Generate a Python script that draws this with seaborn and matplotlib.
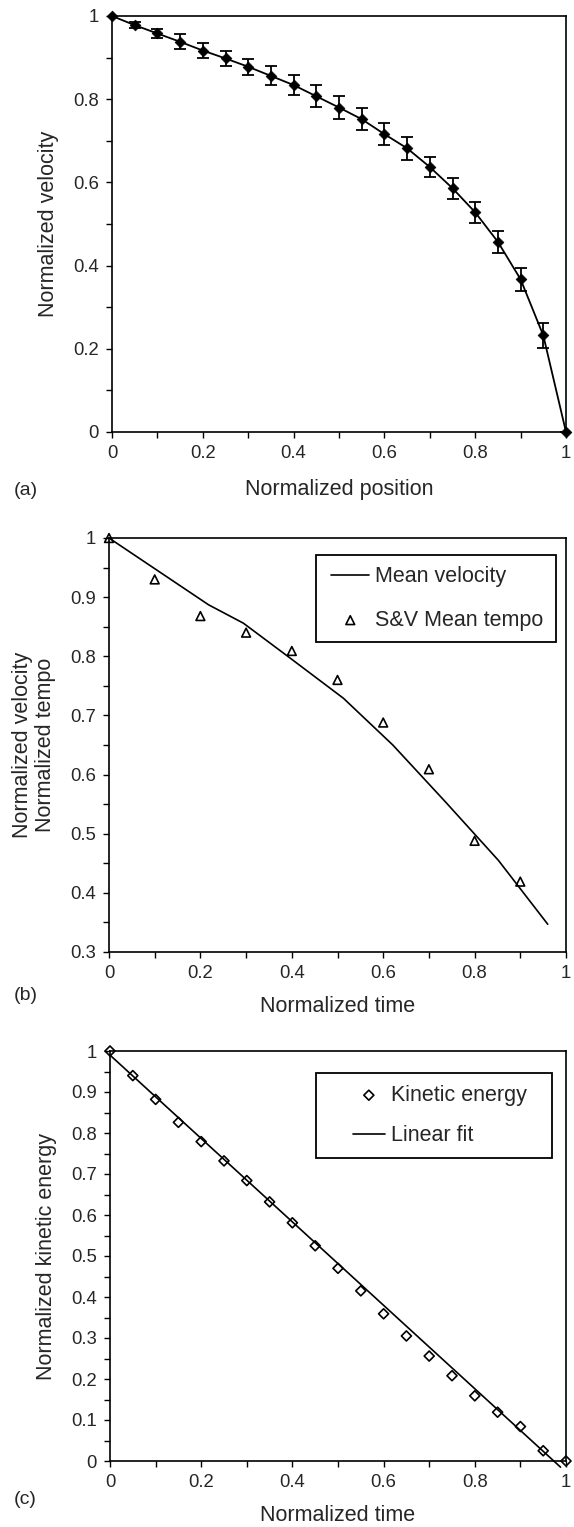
import numpy as np
import pandas as pd
import matplotlib
matplotlib.use("Agg")
import matplotlib.pyplot as plt
from matplotlib.ticker import MultipleLocator, FuncFormatter
from matplotlib.legend_handler import HandlerLine2D, HandlerPathCollection
import seaborn as sns

# ---- data -------------------------------------------------------------
# (a) velocity profile along the normalized position
pos_x = [0.0, 0.05, 0.10, 0.15, 0.20, 0.25, 0.30, 0.35, 0.40, 0.45, 0.50,
         0.55, 0.60, 0.65, 0.70, 0.75, 0.80, 0.85, 0.90, 0.95, 1.0]
pos_vel = [1.0, 0.978, 0.958, 0.938, 0.917, 0.898, 0.878, 0.856, 0.834, 0.807, 0.780,
           0.752, 0.716, 0.682, 0.637, 0.586, 0.528, 0.457, 0.367, 0.232, 0.0]
pos_err = [0.0, 0.008, 0.010, 0.018, 0.019, 0.018, 0.019, 0.023, 0.024, 0.026, 0.027,
           0.026, 0.026, 0.028, 0.025, 0.025, 0.025, 0.026, 0.028, 0.031, 0.0]

# (b) mean velocity and S&V mean tempo over normalized time
mv_time = [0.0, 0.218, 0.294, 0.398, 0.513, 0.621, 0.736, 0.852, 0.960]
mv_vel = [1.0, 0.887, 0.856, 0.796, 0.729, 0.650, 0.554, 0.455, 0.347]
tempo_time = [0.0, 0.1, 0.2, 0.3, 0.4, 0.5, 0.6, 0.7, 0.8, 0.9]
tempo_val = [1.0, 0.930, 0.868, 0.840, 0.809, 0.760, 0.688, 0.609, 0.488, 0.419]

# (c) kinetic energy over normalized time and its linear fit
ke_time = [0.0, 0.05, 0.10, 0.15, 0.20, 0.25, 0.30, 0.35, 0.40, 0.45, 0.50,
           0.55, 0.60, 0.65, 0.70, 0.75, 0.80, 0.85, 0.90, 0.95, 1.0]
ke_val = [1.0, 0.940, 0.882, 0.826, 0.779, 0.732, 0.684, 0.632, 0.581, 0.525, 0.470,
          0.415, 0.359, 0.305, 0.256, 0.208, 0.159, 0.119, 0.084, 0.025, 0.0]
fit_time = [0.0, 0.988]
fit_val = [0.990, -0.015]

# ---- style ------------------------------------------------------------
sns.set_style("white")
plt.rcParams["font.family"] = ["Liberation Sans", "DejaVu Sans"]
plt.rcParams["axes.edgecolor"] = "black"
plt.rcParams["axes.linewidth"] = 1.2

W, H = 574, 1527
fig = plt.figure(figsize=(W / 100, H / 100), dpi=100)


def axes_px(left, top, right, bottom):
    return fig.add_axes([left / W, 1 - bottom / H, (right - left) / W, (bottom - top) / H])


fmt = FuncFormatter(lambda v, _: f"{v:g}")
TICK_FS = 13.3
LABEL_FS = 15.5
LEG_FS = 15.5
LEG_PX = LEG_FS * 100 / 72


# Legend handlers that leave an empty gap on the left of the handle box
class ShiftedLine(HandlerLine2D):
    def __init__(self, shift_px, **kw):
        super().__init__(**kw)
        self.shift_px = shift_px

    def create_artists(self, legend, orig_handle, xdescent, ydescent, width,
                       height, fontsize, trans):
        s = self.shift_px
        return super().create_artists(legend, orig_handle, xdescent - s, ydescent,
                                      width - s, height, fontsize, trans)


class ShiftedPoints(HandlerPathCollection):
    def __init__(self, shift_px, **kw):
        super().__init__(**kw)
        self.shift_px = shift_px

    def create_artists(self, legend, orig_handle, xdescent, ydescent, width,
                       height, fontsize, trans):
        s = self.shift_px
        return super().create_artists(legend, orig_handle, xdescent - s, ydescent,
                                      width - s, height, fontsize, trans)


def style_axes(ax, ylim, ymajor, yminor):
    ax.set_xlim(0, 1)
    ax.set_ylim(*ylim)
    ax.xaxis.set_major_locator(MultipleLocator(0.2))
    ax.xaxis.set_minor_locator(MultipleLocator(0.1))
    ax.yaxis.set_major_locator(MultipleLocator(ymajor))
    ax.yaxis.set_minor_locator(MultipleLocator(yminor))
    ax.xaxis.set_major_formatter(fmt)
    ax.yaxis.set_major_formatter(fmt)
    ax.tick_params(which="both", direction="out", length=4.5, width=1.0,
                   color="black", bottom=True, left=True, top=False, right=False)
    ax.tick_params(which="major", labelsize=TICK_FS, pad=5)
    for s in ax.spines.values():
        s.set_visible(True)
        s.set_color("black")
        s.set_linewidth(1.2)


def boxed_legend(ax, ax_box, box, handle_px, shift_px, spacing, pad):
    """Legend with a square black frame spanning the pixel box (l, t, r, b)."""
    al, at, ar, ab = ax_box
    l, t, r, b = box
    aw, ah = ar - al, ab - at
    anchor = ((l - al) / aw, 1 - (b - at) / ah, (r - l) / aw, (b - t) / ah)
    handles, labels = ax.get_legend_handles_labels()
    hmap = {}
    for h in handles:
        if isinstance(h, matplotlib.lines.Line2D):
            hmap[h] = ShiftedLine(shift_px)
        else:
            hmap[h] = ShiftedPoints(shift_px)
    leg = ax.legend(handles, labels, loc="upper left", bbox_to_anchor=anchor,
                    mode="expand", borderaxespad=0, fontsize=LEG_FS, frameon=True,
                    fancybox=False, edgecolor="black", framealpha=1,
                    handlelength=handle_px / LEG_PX, handletextpad=6 / LEG_PX,
                    labelspacing=spacing, borderpad=pad, scatterpoints=1,
                    handler_map=hmap)
    leg.get_frame().set_linewidth(1.3)
    return leg


# ---- (a) ----------------------------------------------------------------
box_a = (112, 16, 566, 432)
ax_a = axes_px(*box_a)
df_a = pd.DataFrame({"x": pos_x, "v": pos_vel, "e": pos_err})
sns.lineplot(data=df_a, x="x", y="v", color="black", linewidth=1.3,
             estimator=None, sort=False, ax=ax_a)
ax_a.errorbar(df_a["x"], df_a["v"], yerr=df_a["e"], fmt="none", ecolor="black",
              elinewidth=1.3, capsize=4.5, capthick=1.3)
sns.scatterplot(data=df_a, x="x", y="v", marker="D", s=30, color="black",
                edgecolor="black", linewidth=0.5, clip_on=False, zorder=5, ax=ax_a)
style_axes(ax_a, (0, 1), 0.2, 0.1)
ax_a.set_xlabel("Normalized position", fontsize=LABEL_FS, labelpad=12)
ax_a.set_ylabel("Normalized velocity", fontsize=LABEL_FS, labelpad=10)
fig.text(14 / W, 1 - 490 / H, "(a)", fontsize=14, ha="left", va="center")

# ---- (b) ----------------------------------------------------------------
box_b = (109, 538, 566, 952)
ax_b = axes_px(*box_b)
df_mv = pd.DataFrame({"t": mv_time, "v": mv_vel})
df_tp = pd.DataFrame({"t": tempo_time, "v": tempo_val})
sns.lineplot(data=df_mv, x="t", y="v", color="black", linewidth=1.2,
             estimator=None, sort=False, label="Mean velocity", ax=ax_b)
sns.scatterplot(data=df_tp, x="t", y="v", marker="^", s=40, facecolor="none",
                edgecolor="black", linewidth=1.2, clip_on=False, zorder=5,
                label="S&V Mean tempo", ax=ax_b)
style_axes(ax_b, (0.3, 1), 0.1, 0.05)
ax_b.set_xlabel("Normalized time", fontsize=LABEL_FS, labelpad=10)
ax_b.set_ylabel("Normalized velocity\nNormalized tempo", fontsize=LABEL_FS,
                labelpad=10, linespacing=1.1)
fig.text(14 / W, 1 - 995 / H, "(b)", fontsize=14, ha="left", va="center")
boxed_legend(ax_b, box_b, (316, 555, 556, 641), handle_px=42, shift_px=3,
             spacing=1.05, pad=0.52)

# ---- (c) ----------------------------------------------------------------
box_c = (110, 1051, 566, 1461)
ax_c = axes_px(*box_c)
df_ke = pd.DataFrame({"t": ke_time, "e": ke_val})
df_fit = pd.DataFrame({"t": fit_time, "e": fit_val})
sns.scatterplot(data=df_ke, x="t", y="e", marker="D", s=26, facecolor="none",
                edgecolor="black", linewidth=1.2, clip_on=False, zorder=5,
                label="Kinetic energy", ax=ax_c)
sns.lineplot(data=df_fit, x="t", y="e", color="black", linewidth=1.2,
             estimator=None, sort=False, label="Linear fit", clip_on=False, ax=ax_c)
style_axes(ax_c, (0, 1), 0.1, 0.05)
ax_c.set_xlabel("Normalized time", fontsize=LABEL_FS, labelpad=10)
ax_c.set_ylabel("Normalized kinetic energy", fontsize=LABEL_FS, labelpad=10)
fig.text(14 / W, 1 - 1500 / H, "(c)", fontsize=14, ha="left", va="center")
boxed_legend(ax_c, box_c, (316, 1073, 552, 1157), handle_px=57, shift_px=18,
             spacing=0.9, pad=0.55)

fig.savefig("out.png", dpi=100, facecolor="white")
